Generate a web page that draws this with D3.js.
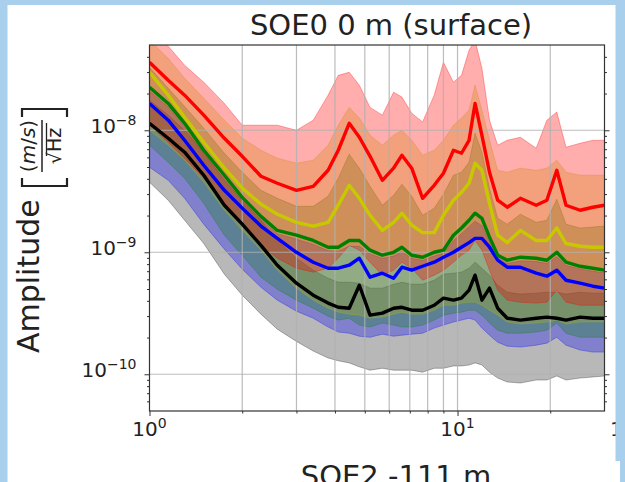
<!DOCTYPE html>
<html>
<head>
<meta charset="utf-8">
<script src="https://cdn.jsdelivr.net/npm/d3@7"></script>
<style>
  body { margin: 0; background: #fff; }
  svg { display: block; font-family: "DejaVu Sans", sans-serif; }
</style>
</head>
<body>
<div id="chart"></div>
<script>
// frequency grid (Hz)
var freqs = [1, 1.15, 1.3, 1.5, 1.75, 2, 2.3, 2.6, 3, 3.4, 3.8, 4.1, 4.45, 4.8, 5.2, 5.7, 6.2, 6.6, 7.1, 7.7,
  8.4, 9, 9.7, 10.3, 10.9, 11.4, 12, 12.7, 13.5, 14.5, 16, 18, 19.5, 21, 22.5, 25, 27.5, 30];

// amplitudes in nm/s/sqrt(Hz)  (1 -> 1e-9 m/s/sqrt(Hz))
var redLine = [36.1, 25.7, 19.4, 13.3, 8.60, 6.12, 4.20, 3.68, 3.22, 3.47, 4.70, 6.86, 11.4, 8.76, 6.12, 3.89, 4.89, 6.24, 4.89, 2.77,
  3.54, 4.44, 6.86, 6.48, 8.28, 16.6, 9.10, 4.53, 2.67, 2.34, 2.77, 2.43, 2.67, 4.70, 2.43, 2.21, 2.34, 2.43];
var redHi = [60.1, 48.9, 34.1, 24.8, 16.6, 11.0, 11.0, 11.0, 10.0, 12.1, 19.4, 28.2, 29.9, 23.4, 15.4, 13.3, 20.5, 18.7, 13.8, 11.7,
  19.4, 36.1, 24.8, 28.2, 45.3, 54.7, 32.2, 12.1, 7.54, 8.28, 8.76, 7.13, 12.1, 14.1, 7.26, 7.83, 8.28, 8.28];
var redLo = [11.0, 7.97, 5.90, 4.05, 2.57, 1.67, 1.14, 0.894, 0.740, 0.687, 0.740, 0.894, 1.14, 1.04, 0.829, 0.649, 0.713, 0.829, 0.740, 0.590,
  0.649, 0.713, 0.829, 0.946, 1.04, 1.25, 1.04, 0.713, 0.489, 0.405, 0.390, 0.383, 0.390, 0.489, 0.390, 0.368, 0.368, 0.368];

var yelLine = [29.9, 19.4, 12.8, 7.97, 4.89, 3.35, 2.48, 2.05, 1.76, 1.64, 1.76, 2.43, 3.54, 2.77, 2.01, 1.51, 1.76, 2.09, 1.67, 1.45,
  1.45, 2.01, 2.67, 3.10, 3.68, 5.37, 4.70, 2.52, 1.38, 1.20, 1.51, 1.25, 1.25, 1.58, 1.18, 1.12, 1.10, 1.10];
var yelHi = [54.7, 38.9, 26.7, 18.3, 12.1, 8.60, 6.86, 5.90, 5.37, 5.68, 7.54, 11.0, 15.4, 12.6, 9.10, 7.54, 9.10, 10.0, 8.28, 6.24,
  6.86, 8.28, 11.0, 12.6, 14.6, 23.4, 14.6, 8.28, 4.70, 4.53, 4.89, 4.70, 4.89, 5.68, 4.53, 4.28, 4.28, 4.28];
var yelLo = [10.0, 7.54, 5.68, 3.75, 2.21, 1.51, 1.04, 0.713, 0.508, 0.405, 0.348, 0.323, 0.311, 0.305, 0.288, 0.294, 0.311, 0.323, 0.311, 0.311,
  0.335, 0.368, 0.368, 0.383, 0.390, 0.390, 0.368, 0.335, 0.305, 0.268, 0.258, 0.263, 0.268, 0.278, 0.258, 0.268, 0.268, 0.268];

var grnLine = [22.5, 16.6, 11.4, 6.86, 4.28, 2.82, 1.97, 1.51, 1.38, 1.25, 1.10, 1.10, 1.25, 1.25, 1.04, 0.946, 1.00, 1.10, 0.946, 0.911,
  1.00, 1.04, 1.38, 1.58, 1.83, 2.09, 1.90, 1.33, 0.946, 0.861, 0.911, 0.894, 0.861, 1.00, 0.829, 0.768, 0.740, 0.713];
var grnHi = [32.8, 22.1, 15.7, 10.4, 6.48, 4.53, 3.22, 2.77, 2.38, 2.38, 2.88, 4.05, 6.36, 4.89, 3.47, 2.43, 2.93, 3.61, 2.88, 2.01,
  2.30, 2.99, 4.28, 4.53, 5.47, 9.45, 6.61, 3.35, 1.90, 1.70, 2.05, 1.76, 1.83, 2.72, 1.70, 1.58, 1.61, 1.64];
var grnLo = [7.54, 5.47, 4.05, 2.52, 1.38, 0.946, 0.625, 0.498, 0.405, 0.348, 0.299, 0.278, 0.288, 0.253, 0.244, 0.263, 0.253, 0.244, 0.244, 0.253,
  0.278, 0.305, 0.317, 0.323, 0.335, 0.335, 0.305, 0.263, 0.230, 0.217, 0.217, 0.222, 0.230, 0.263, 0.217, 0.201, 0.201, 0.201];

var bluLine = [16.6, 12.1, 8.28, 5.17, 3.22, 2.30, 1.64, 1.30, 1.00, 0.829, 0.740, 0.740, 0.783, 0.894, 0.625, 0.674, 0.613, 0.754, 0.713, 0.768,
  0.829, 0.911, 1.00, 1.10, 1.20, 1.30, 1.30, 1.10, 0.861, 0.754, 0.754, 0.674, 0.637, 0.713, 0.590, 0.558, 0.527, 0.508];
var bluHi = [21.0, 15.5, 10.6, 6.40, 4.00, 2.65, 1.85, 1.42, 1.28, 1.16, 1.03, 1.02, 1.12, 1.12, 0.97, 0.89, 0.93, 1.01, 0.89, 0.86,
  0.93, 0.98, 1.25, 1.42, 1.62, 1.80, 1.65, 1.22, 0.89, 0.81, 0.85, 0.84, 0.81, 0.92, 0.78, 0.73, 0.70, 0.68];
var bluLo = [4.98, 3.89, 2.77, 1.70, 1.06, 0.727, 0.517, 0.405, 0.329, 0.288, 0.244, 0.222, 0.217, 0.205, 0.201, 0.213, 0.205, 0.209, 0.213, 0.217,
  0.239, 0.253, 0.268, 0.278, 0.288, 0.278, 0.239, 0.209, 0.183, 0.170, 0.167, 0.173, 0.180, 0.201, 0.173, 0.158, 0.152, 0.152];

var blkLine = [11.4, 8.60, 6.61, 4.28, 2.43, 1.70, 1.14, 0.783, 0.558, 0.445, 0.383, 0.354, 0.348, 0.537, 0.305, 0.317, 0.348, 0.354, 0.335, 0.335,
  0.368, 0.421, 0.405, 0.421, 0.489, 0.649, 0.405, 0.508, 0.348, 0.288, 0.278, 0.288, 0.294, 0.288, 0.278, 0.294, 0.288, 0.288];
var blkHi = [17.6, 13.3, 10.0, 6.61, 3.89, 2.67, 1.83, 1.25, 0.894, 0.713, 0.613, 0.568, 0.568, 0.558, 0.508, 0.508, 0.547, 0.568, 0.547, 0.547,
  0.590, 0.661, 0.674, 0.687, 0.740, 0.829, 0.740, 0.649, 0.537, 0.471, 0.454, 0.462, 0.471, 0.471, 0.454, 0.471, 0.462, 0.462];
var blkLo = [3.75, 2.67, 1.83, 1.18, 0.661, 0.445, 0.311, 0.234, 0.186, 0.155, 0.136, 0.129, 0.124, 0.115, 0.108, 0.112, 0.108, 0.108, 0.108, 0.104,
  0.112, 0.112, 0.117, 0.117, 0.119, 0.124, 0.119, 0.104, 0.0931, 0.0864, 0.0848, 0.0897, 0.0897, 0.0968, 0.0897, 0.0931, 0.0950, 0.0968];

var xMajor = [1, 10];
var xMinor = [2, 3, 4, 5, 6, 7, 8, 9, 20];
var yMajor = [1e-10, 1e-9, 1e-8];
var yMinor = [6e-11, 7e-11, 8e-11, 9e-11, 2e-10, 3e-10, 4e-10, 5e-10, 6e-10, 7e-10, 8e-10, 9e-10,
  2e-9, 3e-9, 4e-9, 5e-9, 6e-9, 7e-9, 8e-9, 9e-9, 2e-8, 3e-8, 4e-8];

var nm = 1e-9;

// order = drawing order (bottom first)
var series = [
  { line: blkLine, hi: blkHi, lo: blkLo, color: "#000000", band: "#000000", alpha: 0.28 },
  { line: bluLine, hi: bluHi, lo: bluLo, color: "#0000ff", band: "#0000ff", alpha: 0.3 },
  { line: grnLine, hi: grnHi, lo: grnLo, color: "#008000", band: "#008000", alpha: 0.28 },
  { line: yelLine, hi: yelHi, lo: yelLo, color: "#c8c800", band: "#bfbf00", alpha: 0.28 },
  { line: redLine, hi: redHi, lo: redLo, color: "#ff0000", band: "#ff0000", alpha: 0.32 }
];

var width = 625, height = 482;
var margin = { top: 45, right: 20.5, bottom: 71, left: 149.5 };
var plotW = width - margin.left - margin.right;
var plotH = height - margin.top - margin.bottom;

var svg = d3.select("#chart").append("svg")
  .attr("width", width)
  .attr("height", height);

svg.append("rect").attr("width", width).attr("height", height).attr("fill", "#fff");

var x = d3.scaleLog().domain([1, 30]).range([margin.left, margin.left + plotW]);
var y = d3.scaleLog().domain([5e-11, 5e-8]).range([margin.top + plotH, margin.top]);

svg.append("clipPath").attr("id", "plotclip")
  .append("rect")
  .attr("x", margin.left).attr("y", margin.top)
  .attr("width", plotW).attr("height", plotH);

var plot = svg.append("g").attr("clip-path", "url(#plotclip)");

// percentile bands
var area = d3.area()
  .x(function (d) { return x(d.f); })
  .y0(function (d) { return y(d.lo * nm); })
  .y1(function (d) { return y(d.hi * nm); });

series.forEach(function (s) {
  var rows = freqs.map(function (f, i) { return { f: f, lo: s.lo[i], hi: s.hi[i] }; });
  plot.append("path")
    .attr("d", area(rows))
    .attr("fill", s.band)
    .attr("fill-opacity", s.alpha)
    .attr("stroke", s.band)
    .attr("stroke-opacity", s.alpha)
    .attr("stroke-width", 1);
});

// grid
var grid = plot.append("g").attr("stroke", "#b0b0b0").attr("stroke-width", 1.2).attr("stroke-opacity", 0.85);
grid.selectAll("line.vx")
  .data(xMinor.concat([10]))
  .enter().append("line")
  .attr("x1", function (d) { return x(d); }).attr("x2", function (d) { return x(d); })
  .attr("y1", margin.top).attr("y2", margin.top + plotH);
grid.selectAll("line.hy")
  .data(yMajor)
  .enter().append("line")
  .attr("y1", function (d) { return y(d); }).attr("y2", function (d) { return y(d); })
  .attr("x1", margin.left).attr("x2", margin.left + plotW);

// median lines
var line = d3.line()
  .x(function (d) { return x(d.f); })
  .y(function (d) { return y(d.v * nm); });

series.forEach(function (s) {
  var rows = freqs.map(function (f, i) { return { f: f, v: s.line[i] }; });
  plot.append("path")
    .attr("d", line(rows))
    .attr("fill", "none")
    .attr("stroke", s.color)
    .attr("stroke-width", 3.4)
    .attr("stroke-linejoin", "round");
});

// frame
svg.append("rect")
  .attr("x", margin.left).attr("y", margin.top)
  .attr("width", plotW).attr("height", plotH)
  .attr("fill", "none").attr("stroke", "#333").attr("stroke-width", 1.2);

// axes ticks
function tickAxis(axis, transform) {
  var g = svg.append("g").attr("transform", transform).call(axis);
  g.select(".domain").remove();
  g.selectAll("text").remove();
  g.selectAll("line").attr("stroke", "#333").attr("stroke-width", 1);
  return g;
}
var bottomY = margin.top + plotH;
tickAxis(d3.axisBottom(x).tickValues(xMajor).tickSize(5), "translate(0," + bottomY + ")");
tickAxis(d3.axisBottom(x).tickValues(xMinor).tickSize(2.5), "translate(0," + bottomY + ")");
tickAxis(d3.axisLeft(y).tickValues(yMajor).tickSize(5), "translate(" + margin.left + ",0)");
tickAxis(d3.axisLeft(y).tickValues(yMinor).tickSize(2.5), "translate(" + margin.left + ",0)");
tickAxis(d3.axisRight(y).tickValues(yMajor).tickSize(5), "translate(" + (margin.left + plotW) + ",0)");
tickAxis(d3.axisRight(y).tickValues(yMinor).tickSize(2.5), "translate(" + (margin.left + plotW) + ",0)");

// tick labels with superscripts
var labs = svg.append("g").attr("fill", "#222");
xMajor.forEach(function (v) {
  var t = labs.append("text")
    .attr("x", x(v)).attr("y", bottomY + 25)
    .attr("text-anchor", "middle")
    .attr("font-size", 20);
  t.append("tspan").text("10");
  t.append("tspan").attr("dy", -8).attr("font-size", 14).text(Math.round(Math.log10(v)));
});
yMajor.forEach(function (v) {
  var t = labs.append("text")
    .attr("x", margin.left - 13).attr("y", y(v) + 3)
    .attr("text-anchor", "end")
    .attr("font-size", 20);
  t.append("tspan").text("10");
  t.append("tspan").attr("dy", -8).attr("font-size", 14).text("\u2212" + Math.round(-Math.log10(v)));
});

// y axis label
var yl = svg.append("g").attr("transform", "translate(39,353) rotate(-90)").attr("fill", "#222");
yl.append("text").attr("x", 0).attr("y", 0).attr("font-size", 30).text("Amplitude");
yl.append("path").attr("d", "M175,-17H167V28H175")
  .attr("fill", "none").attr("stroke", "#222").attr("stroke-width", 2.2);
yl.append("path").attr("d", "M236,-17H244V28H236")
  .attr("fill", "none").attr("stroke", "#222").attr("stroke-width", 2.2);
var num = yl.append("text").attr("x", 207).attr("y", -4).attr("text-anchor", "middle").attr("font-size", 20);
num.append("tspan").text("(");
num.append("tspan").attr("font-style", "italic").text("m");
num.append("tspan").text("/");
num.append("tspan").attr("font-style", "italic").text("s");
num.append("tspan").text(")");
yl.append("line").attr("x1", 181).attr("x2", 233).attr("y1", 3).attr("y2", 3)
  .attr("stroke", "#222").attr("stroke-width", 1.5);
yl.append("text").attr("x", 207).attr("y", 22).attr("text-anchor", "middle").attr("font-size", 19).text("\u221aHz");
yl.append("line").attr("x1", 197).attr("x2", 230).attr("y1", 7.5).attr("y2", 7.5)
  .attr("stroke", "#222").attr("stroke-width", 1.3);

// titles
svg.append("text").attr("x", 391).attr("y", 35).attr("text-anchor", "middle")
  .attr("font-size", 29).attr("fill", "#222").text("SOE0 0 m (surface)");
svg.append("text").attr("x", 396).attr("y", 486).attr("text-anchor", "middle")
  .attr("font-size", 29).attr("fill", "#222").text("SOE2 -111 m");

// neighbouring panel label peeking in at the right
var nb = svg.append("text").attr("x", 610).attr("y", bottomY + 25).attr("font-size", 20).attr("fill", "#222");
nb.append("tspan").text("10");
nb.append("tspan").attr("dy", -8).attr("font-size", 14).text("0");

// page background strips
var bg = "#a8cfec";
svg.append("rect").attr("x", 0).attr("y", 0).attr("width", width).attr("height", 5).attr("fill", bg);
svg.append("rect").attr("x", 0).attr("y", 0).attr("width", 7.5).attr("height", height).attr("fill", bg);
svg.append("rect").attr("x", 615.5).attr("y", 0).attr("width", width - 615.5).attr("height", 461).attr("fill", bg);
svg.append("rect").attr("x", 620).attr("y", 461).attr("width", 5).attr("height", height - 461).attr("fill", bg);
</script>
</body>
</html>
